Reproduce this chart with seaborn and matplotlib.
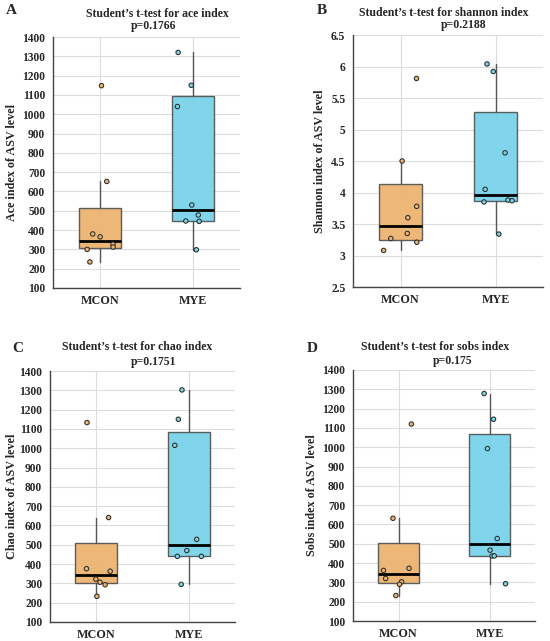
import numpy as np
import pandas as pd
import seaborn as sns
import matplotlib
matplotlib.use("Agg")
import matplotlib.pyplot as plt
from matplotlib.ticker import MultipleLocator, FormatStrFormatter

groups = ['MCON', 'MYE']

# values
ace_mcon = [1148, 652, 380, 365, 327, 312, 300, 235]
ace_mye = [1320, 1150, 1040, 530, 478, 447, 445, 298]
shannon_mcon = [5.81, 4.50, 3.78, 3.60, 3.35, 3.27, 3.21, 3.08]
shannon_mye = [6.04, 5.92, 4.63, 4.05, 3.88, 3.87, 3.85, 3.34]
chao_mcon = [1133, 641, 376, 363, 322, 306, 293, 233]
chao_mye = [1302, 1150, 1015, 528, 470, 440, 440, 295]
sobs_mcon = [1120, 632, 373, 362, 320, 303, 290, 232]
sobs_mye = [1278, 1145, 993, 527, 467, 437, 437, 293]

p_values = ['0.1766', '0.2188', '0.1751', '0.175']
index_names = ['ace', 'shannon', 'chao', 'sobs']
ylabels = ['Ace index of ASV level', 'Shannon index of ASV level',
           'Chao index of ASV level', 'Sobs index of ASV level']
letters = ['A', 'B', 'C', 'D']

sns.set_theme(style='white')
plt.rcParams['font.family'] = ['Liberation Serif', 'DejaVu Serif']
plt.rcParams['font.weight'] = 'bold'

colors = {'MCON': '#EDB470', 'MYE': '#79D3E9'}

W, H = 550, 641
fig = plt.figure(figsize=(W / 100, H / 100), dpi=100)

# axes boxes in pixels: left, right, top, bottom
boxes = [(53, 240, 37, 288), (353, 543, 35, 287),
         (50, 235, 371, 622), (353, 535, 370, 621)]
title_x = [(0.56, 0.54), (0.48, 0.58), (0.47, 0.56), (0.45, 0.55)]
title_y = [(14, 26), (13, 25), (347, 362), (347, 361)]
letter_xy = [(11, 11), (322, 11), (18, 349), (312, 349)]
ylabel_x = [18, 326, 18, 318]   # right edge of the rotated label

panels = [(ace_mcon, ace_mye), (shannon_mcon, shannon_mye),
          (chao_mcon, chao_mye), (sobs_mcon, sobs_mye)]


def hinge_stats(vals, label):
    v = np.sort(np.asarray(vals, dtype=float))
    q1, med, q3 = np.percentile(v, [25, 50, 75], method='midpoint')
    iqr = q3 - q1
    lo = v[v >= q1 - 1.5 * iqr].min()
    hi = v[v <= q3 + 1.5 * iqr].max()
    return dict(med=med, q1=q1, q3=q3, whislo=lo, whishi=hi, fliers=[], label=label)


for i, (mcon, mye) in enumerate(panels):
    l, r, t, b = boxes[i]
    ax = fig.add_axes([l / W, 1 - b / H, (r - l) / W, (b - t) / H])
    df = pd.DataFrame({'group': ['MCON'] * len(mcon) + ['MYE'] * len(mye),
                       'value': list(mcon) + list(mye)})

    stats = [hinge_stats(mcon, 'MCON'), hinge_stats(mye, 'MYE')]
    bp = ax.bxp(stats, positions=[0, 1], widths=0.45, showcaps=False,
                showfliers=False, patch_artist=True,
                boxprops=dict(edgecolor='#555555', linewidth=1.0),
                whiskerprops=dict(color='#555555', linewidth=1.0),
                medianprops=dict(color='black', linewidth=2.0), zorder=2)
    for patch, g in zip(bp['boxes'], groups):
        patch.set_facecolor(colors[g])
        patch.set_alpha(0.95)

    np.random.seed(i + 3)
    sns.stripplot(data=df, x='group', y='value', hue='group', order=groups,
                  palette=colors, jitter=0.18, size=3.2, linewidth=0.75,
                  edgecolor='#2b2b2b', legend=False, ax=ax, zorder=3)

    ax.set_xlim(-0.5, 1.5)
    if i == 1:
        ax.set_ylim(2.5, 6.5)
        ax.yaxis.set_major_locator(MultipleLocator(0.5))
        ax.yaxis.set_major_formatter(FormatStrFormatter('%g'))
    else:
        ax.set_ylim(100, 1400)
        ax.yaxis.set_major_locator(MultipleLocator(100))

    ax.set_axisbelow(True)
    ax.grid(True, color='#dcdcdc', linewidth=0.8)
    for s in ['top', 'right']:
        ax.spines[s].set_visible(False)
    for s in ['left', 'bottom']:
        ax.spines[s].set_color('#444444')
        ax.spines[s].set_linewidth(1.0)

    ax.set_xlabel('')
    ax.set_ylabel(ylabels[i], fontsize=8.7, fontweight='bold')
    ax.yaxis.set_label_coords((ylabel_x[i] - l) / (r - l), 0.5)
    ax.tick_params(axis='y', labelsize=8.3, length=4, width=0.8, color='#444444', pad=1.5)
    ax.tick_params(axis='x', labelsize=8.7, length=0, pad=5)
    for lab in ax.get_xticklabels() + ax.get_yticklabels():
        lab.set_fontweight('bold')

    tx1, tx2 = title_x[i]
    ty1, ty2 = title_y[i]
    fig.text(l / W + tx1 * (r - l) / W, 1 - ty1 / H,
             'Student\u2019s t-test for %s index' % index_names[i],
             ha='center', va='center', fontsize=8.5, fontweight='bold')
    fig.text(l / W + tx2 * (r - l) / W, 1 - ty2 / H, 'p=' + p_values[i],
             ha='center', va='center', fontsize=8.5, fontweight='bold')
    lx, ly = letter_xy[i]
    fig.text(lx / W, 1 - ly / H, letters[i], ha='center', va='center',
             fontsize=11, fontweight='bold')

fig.savefig('out.png', dpi=100, facecolor='white')
